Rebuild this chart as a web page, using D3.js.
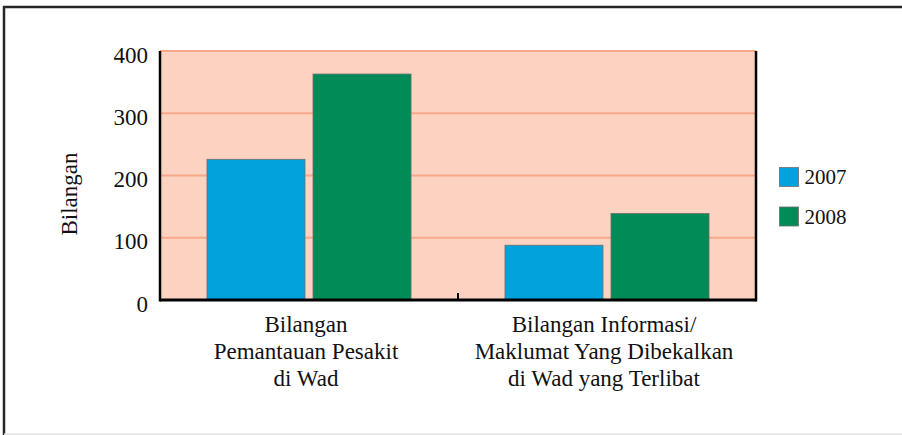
<!DOCTYPE html>
<html>
<head>
<meta charset="utf-8">
<script src="https://cdn.jsdelivr.net/npm/d3@7"></script>
<style>
  body { margin: 0; background: #fff; }
</style>
</head>
<body>
<div id="chart"></div>
<script>
var categories = [
  ["Bilangan", "Pemantauan Pesakit", "di Wad"],
  ["Bilangan Informasi/", "Maklumat Yang Dibekalkan", "di Wad yang Terlibat"]
];
var series = ["2007", "2008"];
var values2007 = [226, 88];
var values2008 = [363, 139];
var yTicks = [0, 100, 200, 300, 400];

var width = 902, height = 435;
var plotLeft = 160, plotRight = 756, plotTop = 51, plotBottom = 300;
var serif = "'Liberation Serif', 'Times New Roman', Times, 'DejaVu Serif', serif";

var svg = d3.select("#chart")
    .append("svg")
    .attr("width", width)
    .attr("height", height)
    .style("font-family", serif);

// frame
svg.append("line").attr("x1", 4).attr("x2", 4).attr("y1", 6).attr("y2", 435)
    .attr("stroke", "#262626").attr("stroke-width", 2.5);
svg.append("line").attr("x1", 3).attr("x2", 902).attr("y1", 7).attr("y2", 7)
    .attr("stroke", "#262626").attr("stroke-width", 2.5);
svg.append("line").attr("x1", 4).attr("x2", 902).attr("y1", 434).attr("y2", 434)
    .attr("stroke", "#e2e2e2").attr("stroke-width", 1.5);

var catIdx = categories.map(function(d, i) { return i; });

var x0 = d3.scaleBand().domain(catIdx).range([plotLeft, plotRight]).padding(0);
var x1 = d3.scaleBand().domain(series).range([0, x0.bandwidth()])
    .paddingInner(0.0755).paddingOuter(0.443);
var y = d3.scaleLinear().domain([0, 400]).range([plotBottom, plotTop]);
var color = d3.scaleOrdinal().domain(series).range(["#00a3db", "#008b57"]);

// plot background
svg.append("rect")
    .attr("x", plotLeft).attr("y", plotTop)
    .attr("width", plotRight - plotLeft).attr("height", plotBottom - plotTop)
    .attr("fill", "#fbd3c0");

// gridlines
svg.append("g")
  .selectAll("line")
  .data(yTicks.filter(function(d) { return d > 0; }))
  .enter().append("line")
    .attr("x1", plotLeft).attr("x2", plotRight)
    .attr("y1", function(d) { return y(d); })
    .attr("y2", function(d) { return y(d); })
    .attr("stroke", "#f7a88b")
    .attr("stroke-width", 2);

// bars
var rows = catIdx.map(function(i) {
  return [{s: "2007", v: values2007[i]}, {s: "2008", v: values2008[i]}];
});

var group = svg.selectAll(".grp")
    .data(rows)
  .enter().append("g")
    .attr("class", "grp")
    .attr("transform", function(d, i) { return "translate(" + x0(i) + ",0)"; });

group.selectAll("rect")
    .data(function(d) { return d; })
  .enter().append("rect")
    .attr("x", function(d) { return x1(d.s); })
    .attr("y", function(d) { return y(d.v); })
    .attr("width", x1.bandwidth())
    .attr("height", function(d) { return y(0) - y(d.v); })
    .attr("fill", function(d) { return color(d.s); })
    .attr("stroke", "#6f6f6f")
    .attr("stroke-width", 0.8);

// axes
svg.append("line").attr("x1", plotLeft).attr("x2", plotLeft).attr("y1", plotTop).attr("y2", plotBottom + 1.5)
    .attr("stroke", "#000").attr("stroke-width", 2.5);
svg.append("line").attr("x1", plotRight).attr("x2", plotRight).attr("y1", plotTop).attr("y2", plotBottom + 1.5)
    .attr("stroke", "#000").attr("stroke-width", 2.5);
svg.append("line").attr("x1", plotLeft).attr("x2", plotRight).attr("y1", plotBottom).attr("y2", plotBottom)
    .attr("stroke", "#000").attr("stroke-width", 3);
// category divider tick
svg.append("line")
    .attr("x1", x0(1)).attr("x2", x0(1))
    .attr("y1", plotBottom).attr("y2", plotBottom - 7)
    .attr("stroke", "#000").attr("stroke-width", 2);

// y tick labels
svg.append("g")
  .selectAll("text")
  .data(yTicks)
  .enter().append("text")
    .attr("x", 148)
    .attr("y", function(d) { return y(d); })
    .attr("dy", "0.5em")
    .attr("text-anchor", "end")
    .attr("fill", "#111")
    .style("font-size", "23px")
    .text(function(d) { return d; });

// y axis title
svg.append("text")
    .attr("transform", "translate(77,194) rotate(-90)")
    .attr("text-anchor", "middle")
    .attr("fill", "#111")
    .style("font-size", "23px")
    .text("Bilangan");

// category labels
var cat = svg.selectAll(".cat")
    .data(categories)
  .enter().append("text")
    .attr("class", "cat")
    .attr("text-anchor", "middle")
    .attr("fill", "#111")
    .style("font-size", "23px");

cat.selectAll("tspan")
    .data(function(d, i) { return d.map(function(t) { return {t: t, i: i}; }); })
  .enter().append("tspan")
    .attr("x", function(d) { return x0(d.i) + x0.bandwidth() / 2 - 3; })
    .attr("y", function(d, j) { return 332 + j * 27; })
    .text(function(d) { return d.t; });

// legend
var legend = svg.selectAll(".leg")
    .data(series)
  .enter().append("g")
    .attr("class", "leg")
    .attr("transform", function(d, i) { return "translate(779.5," + (167.5 + i * 39.5) + ")"; });

legend.append("rect")
    .attr("width", 19).attr("height", 19)
    .attr("fill", function(d) { return color(d); })
    .attr("stroke", "#6f6f6f")
    .attr("stroke-width", 0.8);

legend.append("text")
    .attr("x", 25)
    .attr("y", 16.5)
    .attr("fill", "#111")
    .style("font-size", "21px")
    .text(function(d) { return d; });
</script>
</body>
</html>
